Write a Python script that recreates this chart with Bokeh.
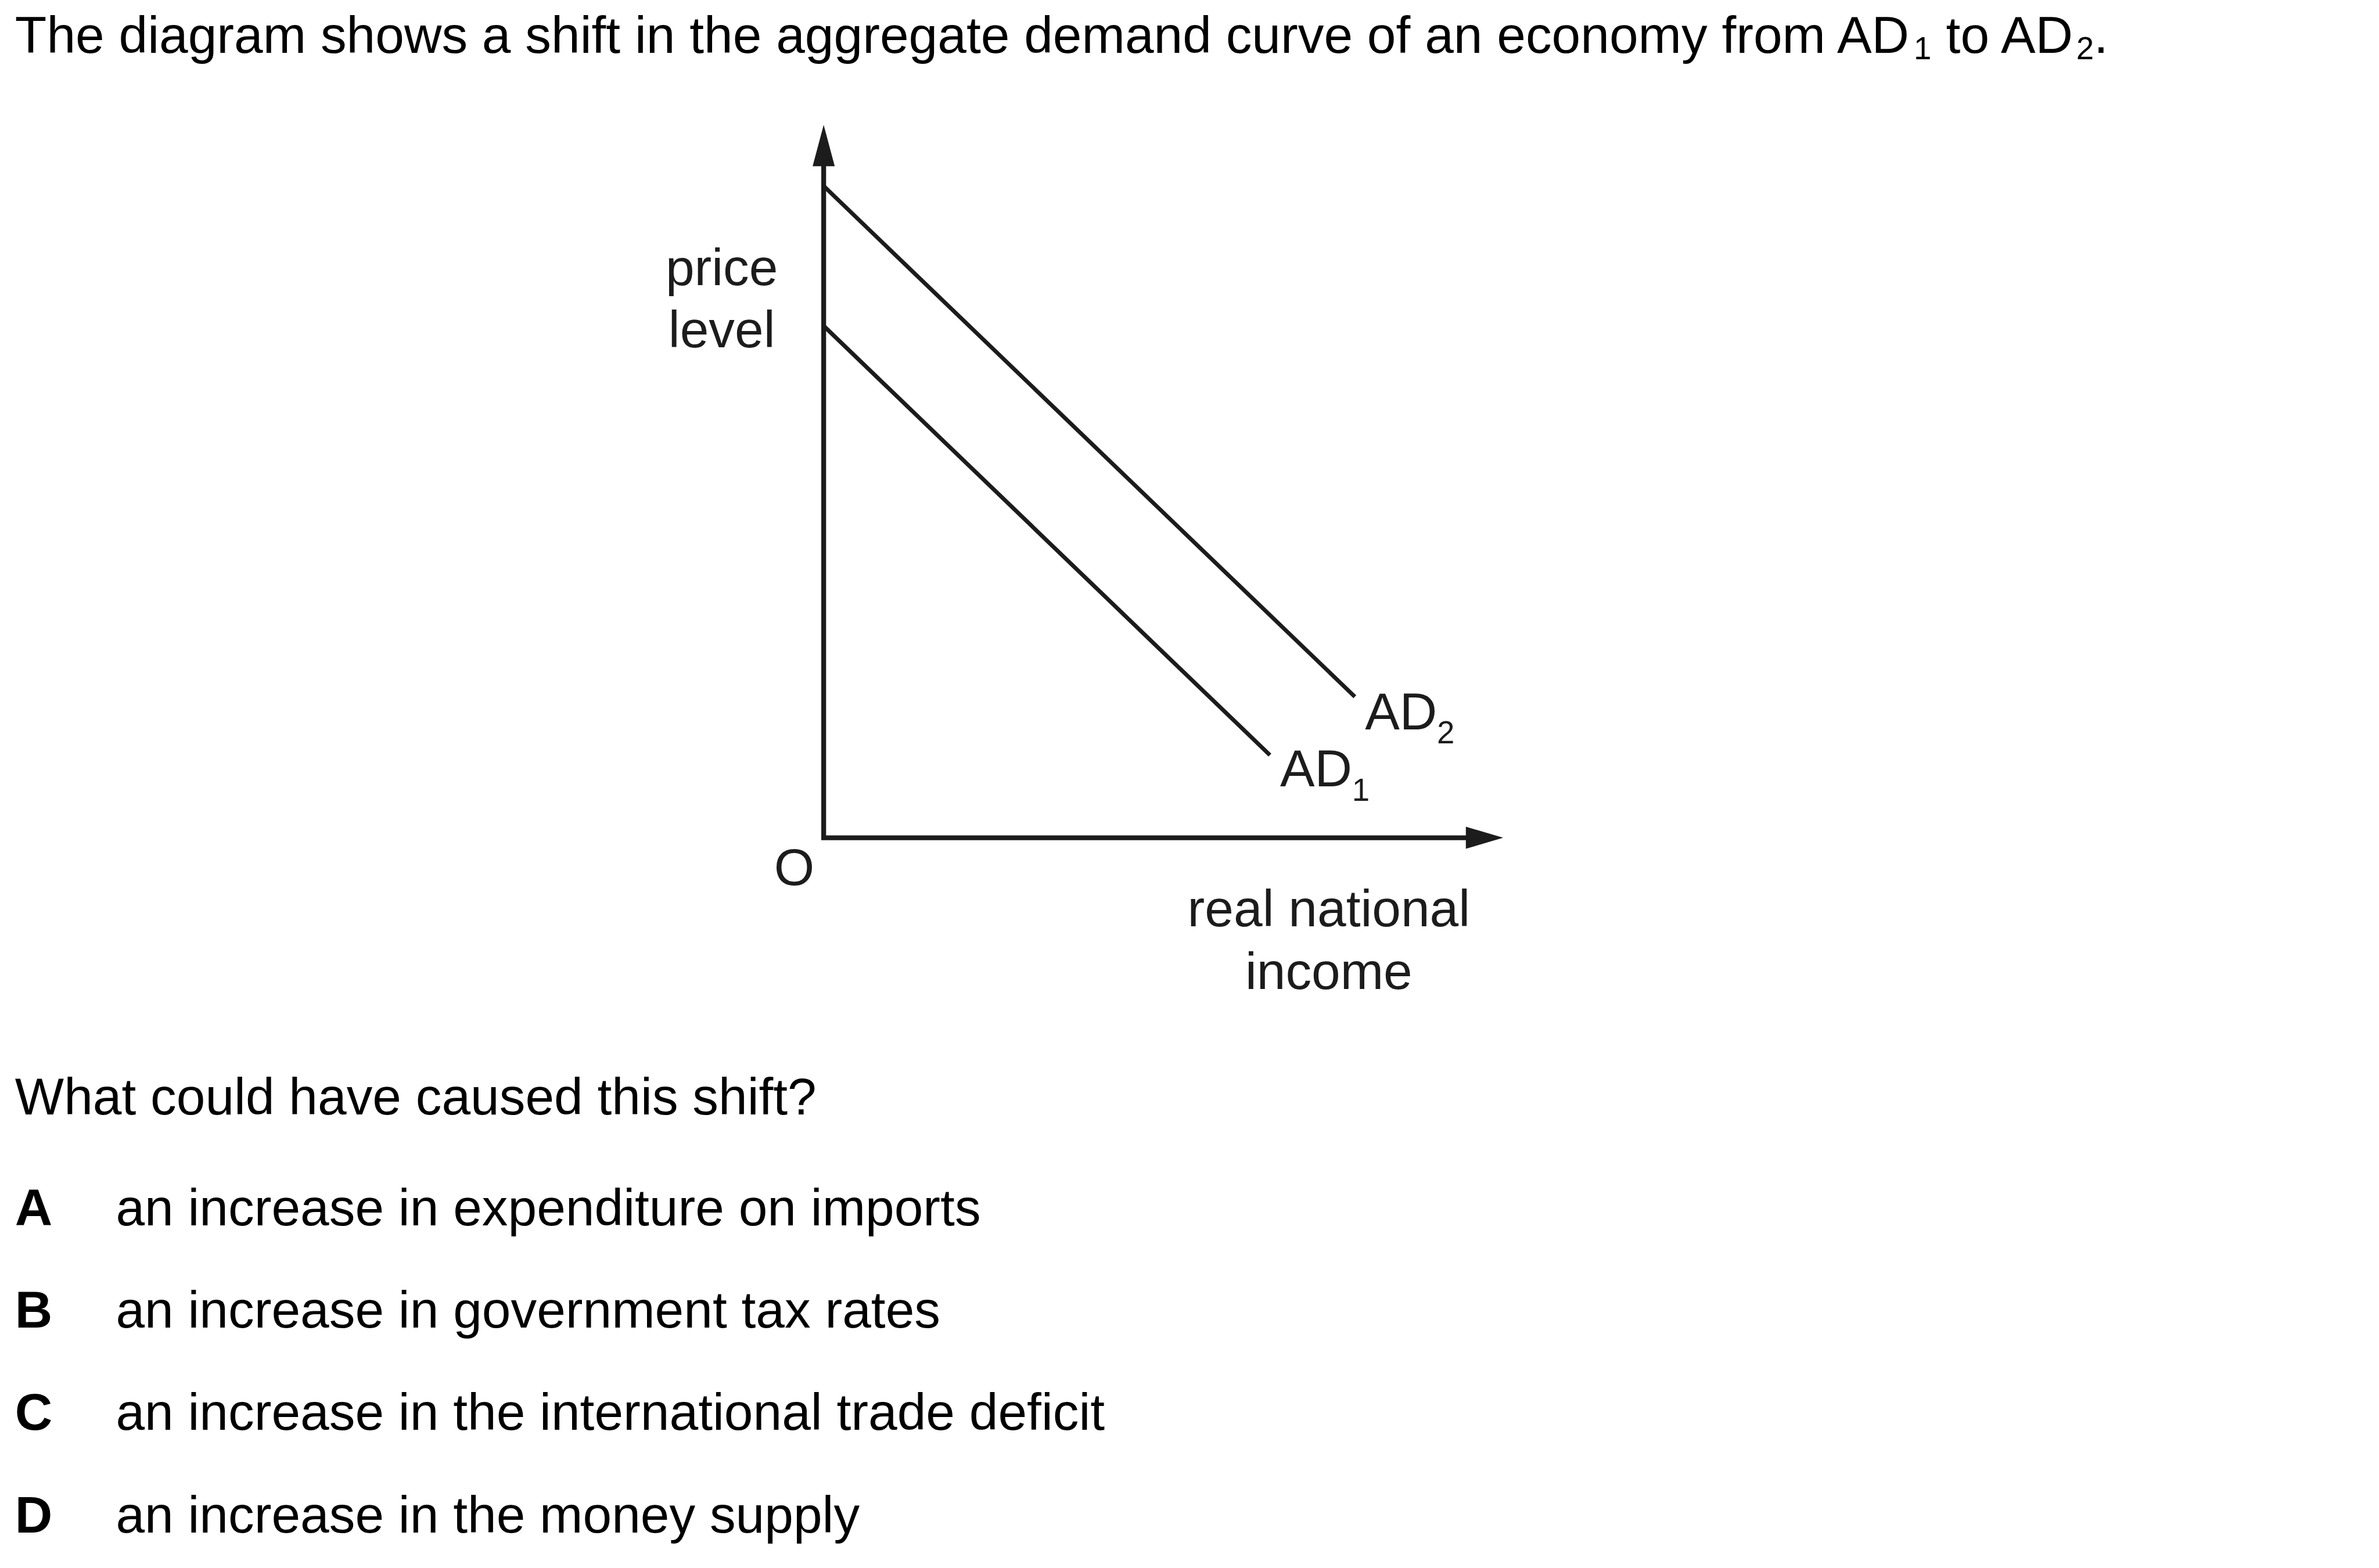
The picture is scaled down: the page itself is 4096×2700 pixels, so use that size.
from bokeh.plotting import figure
from bokeh.models import Range1d
from bokeh.embed import file_html
from bokeh.resources import INLINE
from bokeh.core.properties import value

# ---------------- data ----------------
title_main = "The diagram shows a shift in the aggregate demand curve of an economy from AD"
title_sub1 = "1"
title_mid = "to AD"
title_sub2 = "2"
title_end = "."
question = "What could have caused this shift?"
option_letters = ["A", "B", "C", "D"]
option_texts = [
    "an increase in expenditure on imports",
    "an increase in government tax rates",
    "an increase in the international trade deficit",
    "an increase in the money supply",
]

# diagram values (real national income units, price level units)
ad1_income = [0.0, 7.88]
ad1_price = [9.04, 1.46]
ad2_income = [0.0, 9.38]
ad2_price = [11.51, 2.49]
income_axis_end = 12.0
price_axis_end = 12.59
price_label_lines = ["price", "level"]
income_label_lines = ["real national", "income"]
origin_label = "O"
curve_names = ["AD", "AD"]
curve_subs = ["1", "2"]

# ---------------- layout ----------------
S = 0.975          # drawing scale
M = 0              # page offset (Bokeh's page template has no body margin)
W, H = 4096, 2700  # figure size
OX, OY, U = 1454.0, 1479.0, 100.0  # reference px of origin O, reference px per diagram unit
F_MAIN, F_SUB = 91.6, 56.0         # font sizes in reference px
K = 0.34                           # baseline correction (em)


def dx(X):
    return (X - OX) / U


def dy(Y, f=F_MAIN):
    return (OY - (Y - K * f)) / U


x0, x1 = (M / S - OX) / U, ((M + W) / S - OX) / U
ytop, ybot = (OY - M / S) / U, (OY - (M + H) / S) / U

p = figure(width=W, height=H, x_range=Range1d(x0, x1), y_range=Range1d(ybot, ytop),
           output_backend="svg", toolbar_location=None, x_axis_type=None, y_axis_type=None,
           min_border=0, outline_line_color=None, background_fill_color="white",
           border_fill_color="white")

FONT = value("Liberation Sans")
FS = value(f"{F_MAIN * S:.1f}px")
FS_SUB = value(f"{F_SUB * S:.1f}px")
TXT = "#000000"
INK = "#1c1c1c"
common = dict(text_font=FONT, text_baseline="alphabetic", text_line_height=1.0)

# ---- diagram lines ----
p.line(ad1_income, ad1_price, line_color=INK, line_width=7)
p.line(ad2_income, ad2_price, line_color=INK, line_width=7)

head_len_y, head_len_x, head_half = 0.73, 0.66, 0.195
p.line([0, 0, income_axis_end - head_len_x + 0.04], [price_axis_end - head_len_y + 0.04, 0, 0],
       line_color=INK, line_width=8.3, line_join="miter")
p.patch([-head_half, head_half, 0], [price_axis_end - head_len_y] * 2 + [price_axis_end],
        fill_color=INK, line_color=None)
p.patch([income_axis_end - head_len_x] * 2 + [income_axis_end], [-head_half, head_half, 0],
        fill_color=INK, line_color=None)

# ---- diagram labels ----
p.text(x=[dx(1274)] * 2, y=[dy(502), dy(612)], text=price_label_lines,
       text_font_size=FS, text_align="center", text_color=INK, **common)
p.text(x=[dx(2346)] * 2, y=[dy(1635), dy(1745)], text=income_label_lines,
       text_font_size=FS, text_align="center", text_color=INK, **common)
p.text(x=[dx(1402)], y=[dy(1562)], text=[origin_label],
       text_font_size=FS, text_align="center", text_color=INK, **common)
p.text(x=[dx(2260), dx(2410)], y=[dy(1388), dy(1287)], text=curve_names,
       text_font_size=FS, text_align="left", text_color=INK, **common)
p.text(x=[dx(2387), dx(2537)], y=[dy(1413, F_SUB), dy(1312, F_SUB)], text=curve_subs,
       text_font_size=FS_SUB, text_align="left", text_color=INK, **common)

# ---- title ----
p.text(x=[dx(26), dx(3436), dx(3697)], y=[dy(92)] * 3, text=[title_main, title_mid, title_end],
       text_font_size=FS, text_align="left", text_color=TXT, **common)
p.text(x=[dx(3379), dx(3666)], y=[dy(104, F_SUB)] * 2, text=[title_sub1, title_sub2],
       text_font_size=FS_SUB, text_align="left", text_color=TXT, **common)

# ---- question and options ----
p.text(x=[dx(26)], y=[dy(1967)], text=[question], text_font_size=FS,
       text_align="left", text_color=TXT, **common)
opt_base = [2163, 2343, 2524, 2705]
p.text(x=[dx(26)] * 4, y=[dy(b) for b in opt_base], text=option_letters,
       text_font_size=FS, text_font_style="bold", text_align="left", text_color=TXT, **common)
p.text(x=[dx(204)] * 4, y=[dy(b) for b in opt_base], text=option_texts,
       text_font_size=FS, text_align="left", text_color=TXT, **common)

open("out.html", "w").write(file_html(p, INLINE))
